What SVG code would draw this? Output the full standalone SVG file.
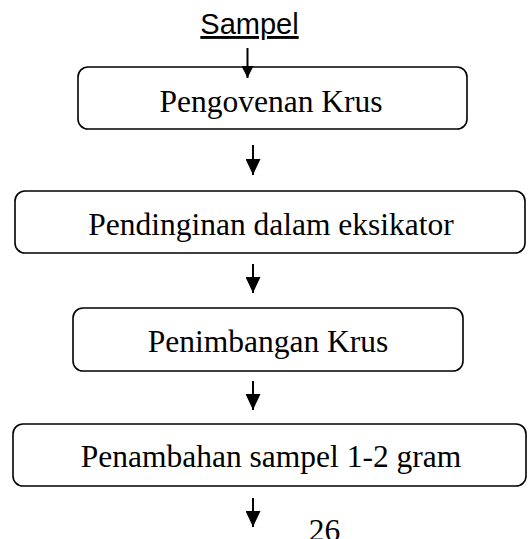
<svg xmlns="http://www.w3.org/2000/svg" width="528" height="539" viewBox="0 0 528 539">
  <style>
    .box { fill: #fff; stroke: #000; stroke-width: 1.6; }
    .lbl { font-family: "Liberation Serif", "Times New Roman", serif; font-size: 31.5px; fill: #000; text-anchor: middle; }
    .head { font-family: "Liberation Sans", Arial, sans-serif; font-size: 29px; fill: #000; text-anchor: middle; text-decoration: underline; }
    .conn { stroke: #000; stroke-width: 2; fill: none; marker-end: url(#arr); }
    .conn.small { marker-end: url(#arr-s); }
  </style>
  <defs>
    <marker id="arr" viewBox="0 0 16 15" refX="16" refY="7.5" markerWidth="16" markerHeight="15" markerUnits="userSpaceOnUse" orient="auto">
      <path d="M0,0 L16,7.5 L0,15 Z" fill="#000"/>
    </marker>
    <marker id="arr-s" viewBox="0 0 12 12" refX="12" refY="6" markerWidth="12" markerHeight="12" markerUnits="userSpaceOnUse" orient="auto">
      <path d="M0,0 L12,6 L0,12 Z" fill="#000"/>
    </marker>
  </defs>

  <g id="sampel">
    <text class="head" x="249.5" y="34">Sampel</text>
  </g>

  <g id="pengovenan">
    <rect class="box" x="78" y="67" width="389" height="62" rx="10"/>
    <text class="lbl" x="271" y="112">Pengovenan Krus</text>
  </g>

  <g id="pendinginan">
    <rect class="box" x="15" y="191" width="510" height="62" rx="10"/>
    <text class="lbl" x="271" y="235">Pendinginan dalam eksikator</text>
  </g>

  <g id="penimbangan">
    <rect class="box" x="73" y="308" width="390" height="63" rx="10"/>
    <text class="lbl" x="268" y="352">Penimbangan Krus</text>
  </g>

  <g id="penambahan">
    <rect class="box" x="13" y="424" width="513" height="62" rx="10"/>
    <text class="lbl" x="271" y="467">Penambahan sampel 1-2 gram</text>
  </g>

  <g id="connectors">
    <line class="conn small" x1="247.5" y1="48" x2="247.5" y2="78"/>
    <line class="conn" x1="253" y1="145" x2="253" y2="175"/>
    <line class="conn" x1="253" y1="264" x2="253" y2="293"/>
    <line class="conn" x1="253" y1="381" x2="253" y2="410"/>
    <line class="conn" x1="253" y1="498" x2="253" y2="527"/>
  </g>

  <text class="lbl" x="324.5" y="541">26</text>
</svg>
